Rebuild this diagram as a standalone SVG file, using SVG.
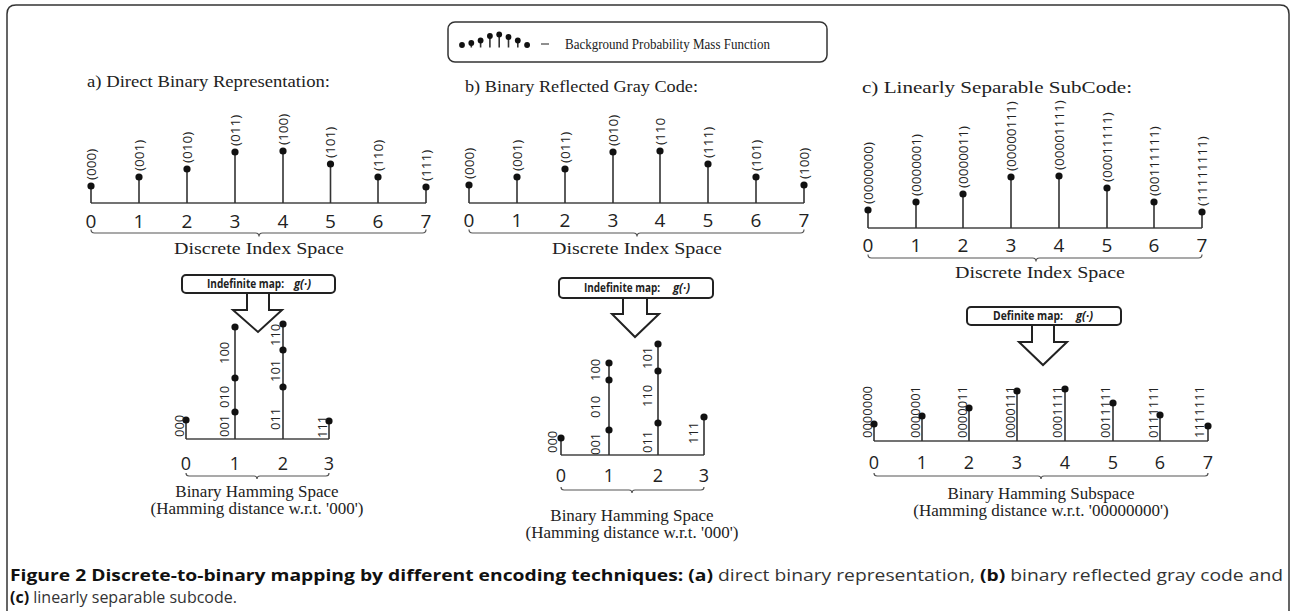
<svg xmlns="http://www.w3.org/2000/svg" width="1291" height="611" viewBox="0 0 1291 611">
<defs>
<style>
.frame{fill:none;stroke:#333;stroke-width:1.5}
.stem{stroke:#333;stroke-width:1.6}
.axis{stroke:#444;stroke-width:1.6;fill:none}
.dot{fill:#111}
.lbl{font-family:"Open Sans","DejaVu Sans",sans-serif;font-size:13.5px;fill:#222}
.hl{font-family:"Open Sans","DejaVu Sans",sans-serif;font-size:13px;fill:#222}
.num{font-family:"Open Sans","DejaVu Sans",sans-serif;font-size:19px;fill:#222;text-anchor:middle}
.hnum{font-family:"Open Sans","DejaVu Sans",sans-serif;font-size:18px;fill:#222;text-anchor:middle}
.serif{font-family:"Liberation Serif","Times New Roman",serif;fill:#222}
.title{font-size:17.5px}
.sub{font-size:17px;text-anchor:middle}
.brace{stroke:#555;stroke-width:1.2;fill:none}
.box{fill:#fff;stroke:#222;stroke-width:2}
.arrow{fill:#fff;stroke:#222;stroke-width:2;stroke-linejoin:miter}
.boxt{font-family:"Open Sans","DejaVu Sans",sans-serif;font-size:11.5px;font-weight:bold;fill:#222}
.it{font-style:italic}
.cap{font-family:"Open Sans","DejaVu Sans",sans-serif;font-size:16px;fill:#333}
.capb{font-weight:bold;fill:#111}
</style>
</defs>
<rect width="1291" height="611" fill="#fff"/>
<path class="frame" d="M7,611 V14 Q7,5 16,5 H1280 Q1289,5 1289,14 V611"/>

<g id="legend">
<rect x="448" y="22" width="379" height="40" rx="7" fill="#fff" stroke="#333" stroke-width="1.5"/>
<g class="stem" stroke-width="1.3">
<line x1="471.3" y1="47.5" x2="471.3" y2="43"/><line x1="480.6" y1="47.5" x2="480.6" y2="40.5"/><line x1="489.9" y1="47.5" x2="489.9" y2="36"/><line x1="499.2" y1="47.5" x2="499.2" y2="34.5"/><line x1="508.5" y1="47.5" x2="508.5" y2="37"/><line x1="517.8" y1="47.5" x2="517.8" y2="40.5"/>
</g>
<g class="dot">
<circle cx="462" cy="45" r="2.9"/><circle cx="471.3" cy="43" r="2.9"/><circle cx="480.6" cy="40.5" r="2.9"/><circle cx="489.9" cy="36" r="2.9"/><circle cx="499.2" cy="34.5" r="2.9"/><circle cx="508.5" cy="37" r="2.9"/><circle cx="517.8" cy="40.5" r="2.9"/><circle cx="527.1" cy="45" r="2.9"/>
</g>
<line x1="541" y1="44" x2="549" y2="44" stroke="#444" stroke-width="1.2"/>
<text class="serif" x="565" y="48.5" font-size="15" textLength="205" lengthAdjust="spacingAndGlyphs">Background Probability Mass Function</text>
</g>

<g id="panel-a">
<text class="serif title" x="87" y="87" textLength="243" lengthAdjust="spacingAndGlyphs">a) Direct Binary Representation:</text>
<line class="axis" x1="91" y1="203" x2="426" y2="203"/>
<g class="stem">
<line x1="91" y1="203" x2="91" y2="186"/><line x1="139" y1="203" x2="139" y2="177"/><line x1="187" y1="203" x2="187" y2="169"/><line x1="235" y1="203" x2="235" y2="152"/><line x1="283" y1="203" x2="283" y2="151"/><line x1="330.5" y1="203" x2="330.5" y2="164"/><line x1="378" y1="203" x2="378" y2="177"/><line x1="426" y1="203" x2="426" y2="187"/>
</g>
<g class="dot">
<circle cx="91" cy="186" r="3.6"/><circle cx="139" cy="177" r="3.6"/><circle cx="187" cy="169" r="3.6"/><circle cx="235" cy="152" r="3.6"/><circle cx="283" cy="151" r="3.6"/><circle cx="330.5" cy="164" r="3.6"/><circle cx="378" cy="177" r="3.6"/><circle cx="426" cy="187" r="3.6"/>
</g>
<g class="lbl">
<text transform="translate(95.8,180) rotate(-90)">(000)</text>
<text transform="translate(143.8,171) rotate(-90)">(001)</text>
<text transform="translate(191.8,163) rotate(-90)">(010)</text>
<text transform="translate(239.8,146) rotate(-90)">(011)</text>
<text transform="translate(287.8,145) rotate(-90)">(100)</text>
<text transform="translate(335.3,158) rotate(-90)">(101)</text>
<text transform="translate(382.8,171) rotate(-90)">(110)</text>
<text transform="translate(430.8,181) rotate(-90)">(111)</text>
</g>
<g class="num">
<text x="91" y="228">0</text><text x="139" y="228">1</text><text x="187" y="228">2</text><text x="235" y="228">3</text><text x="283" y="228">4</text><text x="330.5" y="228">5</text><text x="378" y="228">6</text><text x="426" y="228">7</text>
</g>
<path class="brace" d="M91,229.5 Q91,233 94.5,233 H255.5 Q259,233 259,236.5 Q259,233 262.5,233 H422.5 Q426,233 426,229.5"/>
<text class="serif sub" x="259" y="254" textLength="170" lengthAdjust="spacingAndGlyphs">Discrete Index Space</text>
</g>

<g id="map-a">
<rect class="box" x="182" y="275" width="153" height="18" rx="4"/>
<text class="boxt" x="207" y="288" textLength="77" lengthAdjust="spacingAndGlyphs">Indefinite map:</text>
<text class="boxt it" x="294" y="288" textLength="17" lengthAdjust="spacingAndGlyphs">g(·)</text>
</g>

<g id="hamming-a">
<line class="axis" x1="186" y1="439" x2="329" y2="439"/>
<g class="stem">
<line x1="186" y1="439" x2="186" y2="420"/><line x1="235" y1="439" x2="235" y2="327"/><line x1="283" y1="439" x2="283" y2="324"/><line x1="329" y1="439" x2="329" y2="421"/>
</g>
<g class="dot">
<circle cx="186" cy="420" r="3.6"/><circle cx="235" cy="327" r="3.6"/><circle cx="235" cy="378" r="3.6"/><circle cx="235" cy="412" r="3.6"/><circle cx="283" cy="324" r="3.6"/><circle cx="283" cy="350" r="3.6"/><circle cx="283" cy="387" r="3.6"/><circle cx="329" cy="421" r="3.6"/>
</g>
<g class="hl">
<text transform="translate(183.5,437) rotate(-90)">000</text>
<text transform="translate(228.6,437) rotate(-90)">001</text>
<text transform="translate(228.6,408) rotate(-90)">010</text>
<text transform="translate(228.6,364) rotate(-90)">100</text>
<text transform="translate(279.6,430) rotate(-90)">011</text>
<text transform="translate(279.6,382) rotate(-90)">101</text>
<text transform="translate(279.6,346) rotate(-90)">110</text>
<text transform="translate(326.6,438) rotate(-90)">111</text>
</g>
<g class="hnum">
<text x="186" y="470">0</text><text x="235" y="470">1</text><text x="283" y="470">2</text><text x="329" y="470">3</text>
</g>
<path class="brace" d="M186,473 Q186,476 189,476 H254 Q257,476 257,479 Q257,476 260,476 H326 Q329,476 329,473"/>
<text class="serif sub" x="257" y="497">Binary Hamming Space</text>
<text class="serif sub" x="257" y="514">(Hamming distance w.r.t. '000')</text>
</g>

<g id="panel-b">
<text class="serif title" x="465" y="92" textLength="233" lengthAdjust="spacingAndGlyphs">b) Binary Reflected Gray Code:</text>
<line class="axis" x1="469" y1="203" x2="804" y2="203"/>
<g class="stem">
<line x1="469" y1="203" x2="469" y2="185"/><line x1="517" y1="203" x2="517" y2="177"/><line x1="565" y1="203" x2="565" y2="169"/><line x1="613" y1="203" x2="613" y2="152"/><line x1="660" y1="203" x2="660" y2="151"/><line x1="708" y1="203" x2="708" y2="164"/><line x1="756" y1="203" x2="756" y2="177"/><line x1="804" y1="203" x2="804" y2="185"/>
</g>
<g class="dot">
<circle cx="469" cy="185" r="3.6"/><circle cx="517" cy="177" r="3.6"/><circle cx="565" cy="169" r="3.6"/><circle cx="613" cy="152" r="3.6"/><circle cx="660" cy="151" r="3.6"/><circle cx="708" cy="164" r="3.6"/><circle cx="756" cy="177" r="3.6"/><circle cx="804" cy="185" r="3.6"/>
</g>
<g class="lbl">
<text transform="translate(473.8,179) rotate(-90)">(000)</text>
<text transform="translate(521.8,171) rotate(-90)">(001)</text>
<text transform="translate(569.8,163) rotate(-90)">(011)</text>
<text transform="translate(617.8,146) rotate(-90)">(010)</text>
<text transform="translate(664.8,145) rotate(-90)">(110</text>
<text transform="translate(712.8,158) rotate(-90)">(111)</text>
<text transform="translate(760.8,171) rotate(-90)">(101)</text>
<text transform="translate(808.8,179) rotate(-90)">(100)</text>
</g>
<g class="num">
<text x="469" y="227">0</text><text x="517" y="227">1</text><text x="565" y="227">2</text><text x="613" y="227">3</text><text x="660" y="227">4</text><text x="708" y="227">5</text><text x="756" y="227">6</text><text x="804" y="227">7</text>
</g>
<path class="brace" d="M469,229.5 Q469,233 472.5,233 H633.5 Q637,233 637,236.5 Q637,233 640.5,233 H800.5 Q804,233 804,229.5"/>
<text class="serif sub" x="637" y="254" textLength="170" lengthAdjust="spacingAndGlyphs">Discrete Index Space</text>
</g>

<g id="map-b">
<rect class="box" x="559" y="278" width="154" height="20" rx="4"/>
<text class="boxt" x="584" y="292" textLength="76" lengthAdjust="spacingAndGlyphs">Indefinite map:</text>
<text class="boxt it" x="673" y="292" textLength="17" lengthAdjust="spacingAndGlyphs">g(·)</text>
</g>

<g id="hamming-b">
<line class="axis" x1="561" y1="455" x2="704" y2="455"/>
<g class="stem">
<line x1="561" y1="455" x2="561" y2="438"/><line x1="609" y1="455" x2="609" y2="363"/><line x1="658" y1="455" x2="658" y2="344"/><line x1="704" y1="455" x2="704" y2="417"/>
</g>
<g class="dot">
<circle cx="561" cy="438" r="3.6"/><circle cx="609" cy="363" r="3.6"/><circle cx="609" cy="380" r="3.6"/><circle cx="609" cy="430" r="3.6"/><circle cx="658" cy="344" r="3.6"/><circle cx="658" cy="371" r="3.6"/><circle cx="658" cy="423" r="3.6"/><circle cx="704" cy="417" r="3.6"/>
</g>
<g class="hl">
<text transform="translate(556.5,453) rotate(-90)">000</text>
<text transform="translate(600,455) rotate(-90)">001</text>
<text transform="translate(600,418) rotate(-90)">010</text>
<text transform="translate(600,381) rotate(-90)">100</text>
<text transform="translate(651.5,453) rotate(-90)">011</text>
<text transform="translate(651.5,407) rotate(-90)">110</text>
<text transform="translate(651.5,369) rotate(-90)">101</text>
<text transform="translate(697.5,444) rotate(-90)">111</text>
</g>
<g class="hnum">
<text x="561" y="482">0</text><text x="609" y="482">1</text><text x="658" y="482">2</text><text x="704" y="482">3</text>
</g>
<path class="brace" d="M561,487 Q561,490 564,490 H629 Q632,490 632,493 Q632,490 635,490 H701 Q704,490 704,487"/>
<text class="serif sub" x="632" y="521">Binary Hamming Space</text>
<text class="serif sub" x="632" y="538">(Hamming distance w.r.t. '000')</text>
</g>

<g id="panel-c">
<text class="serif title" x="862" y="93" textLength="270" lengthAdjust="spacingAndGlyphs">c) Linearly Separable SubCode:</text>
<line class="axis" x1="868" y1="228" x2="1202" y2="228"/>
<g class="stem">
<line x1="868" y1="228" x2="868" y2="210"/><line x1="916" y1="228" x2="916" y2="202"/><line x1="963" y1="228" x2="963" y2="194"/><line x1="1011" y1="228" x2="1011" y2="177"/><line x1="1059" y1="228" x2="1059" y2="176"/><line x1="1107" y1="228" x2="1107" y2="188"/><line x1="1154" y1="228" x2="1154" y2="202"/><line x1="1202" y1="228" x2="1202" y2="212"/>
</g>
<g class="dot">
<circle cx="868" cy="210" r="3.6"/><circle cx="916" cy="202" r="3.6"/><circle cx="963" cy="194" r="3.6"/><circle cx="1011" cy="177" r="3.6"/><circle cx="1059" cy="176" r="3.6"/><circle cx="1107" cy="188" r="3.6"/><circle cx="1154" cy="202" r="3.6"/><circle cx="1202" cy="212" r="3.6"/>
</g>
<g class="lbl">
<text transform="translate(872.8,204) rotate(-90)">(0000000)</text>
<text transform="translate(920.8,196) rotate(-90)">(0000001)</text>
<text transform="translate(967.8,188) rotate(-90)">(0000011)</text>
<text transform="translate(1015.8,171) rotate(-90)">(00000111)</text>
<text transform="translate(1063.8,170) rotate(-90)">(00001111)</text>
<text transform="translate(1111.8,182) rotate(-90)">(00011111)</text>
<text transform="translate(1158.8,196) rotate(-90)">(00111111)</text>
<text transform="translate(1206.8,206) rotate(-90)">(11111111)</text>
</g>
<g class="num">
<text x="868" y="252">0</text><text x="916" y="252">1</text><text x="963" y="252">2</text><text x="1011" y="252">3</text><text x="1059" y="252">4</text><text x="1107" y="252">5</text><text x="1154" y="252">6</text><text x="1202" y="252">7</text>
</g>
<path class="brace" d="M868,254.5 Q868,258 871.5,258 H1032.5 Q1036,258 1036,261.5 Q1036,258 1039.5,258 H1198.5 Q1202,258 1202,254.5"/>
<text class="serif sub" x="1040" y="278" textLength="170" lengthAdjust="spacingAndGlyphs">Discrete Index Space</text>
</g>

<g id="map-c">
<rect class="box" x="967" y="307" width="154" height="18" rx="4"/>
<text class="boxt" x="993" y="320" textLength="70" lengthAdjust="spacingAndGlyphs">Definite map:</text>
<text class="boxt it" x="1076" y="320" textLength="17" lengthAdjust="spacingAndGlyphs">g(·)</text>
</g>

<g id="hamming-c">
<line class="axis" x1="874" y1="441" x2="1208" y2="441"/>
<g class="stem">
<line x1="874" y1="441" x2="874" y2="424"/><line x1="922" y1="441" x2="922" y2="416"/><line x1="969" y1="441" x2="969" y2="408"/><line x1="1017" y1="441" x2="1017" y2="391"/><line x1="1065" y1="441" x2="1065" y2="389"/><line x1="1113" y1="441" x2="1113" y2="403"/><line x1="1160" y1="441" x2="1160" y2="415"/><line x1="1208" y1="441" x2="1208" y2="426"/>
</g>
<g class="dot">
<circle cx="874" cy="424" r="3.6"/><circle cx="922" cy="416" r="3.6"/><circle cx="969" cy="408" r="3.6"/><circle cx="1017" cy="391" r="3.6"/><circle cx="1065" cy="389" r="3.6"/><circle cx="1113" cy="403" r="3.6"/><circle cx="1160" cy="415" r="3.6"/><circle cx="1208" cy="426" r="3.6"/>
</g>
<g class="hl">
<text transform="translate(871.6,438) rotate(-90)">0000000</text>
<text transform="translate(919.6,438) rotate(-90)">0000001</text>
<text transform="translate(966.6,438) rotate(-90)">0000011</text>
<text transform="translate(1014.6,438) rotate(-90)">0000111</text>
<text transform="translate(1061.6,438) rotate(-90)">0001111</text>
<text transform="translate(1109.6,438) rotate(-90)">0011111</text>
<text transform="translate(1157.6,438) rotate(-90)">0111111</text>
<text transform="translate(1203.6,438) rotate(-90)">1111111</text>
</g>
<g class="hnum">
<text x="874" y="469">0</text><text x="922" y="469">1</text><text x="969" y="469">2</text><text x="1017" y="469">3</text><text x="1065" y="469">4</text><text x="1113" y="469">5</text><text x="1160" y="469">6</text><text x="1208" y="469">7</text>
</g>
<path class="brace" d="M874,473 Q874,476 877,476 H1038 Q1041,476 1041,479 Q1041,476 1044,476 H1205 Q1208,476 1208,473"/>
<text class="serif sub" x="1041" y="499">Binary Hamming Subspace</text>
<text class="serif sub" x="1041" y="516">(Hamming distance w.r.t. '00000000')</text>
</g>

<g id="connectors">
<polygon class="arrow" points="247,293 247,310 233,310 258,332 282,310 269,310 269,293"/>
<polygon class="arrow" points="623,298 623,314 612,314 635,337 659,314 647,314 647,298"/>
<polygon class="arrow" points="1032,325 1032,342 1019,342 1043,365 1067,342 1054,342 1054,325"/>
</g>

<g id="caption">
<text class="cap" x="10" y="581" textLength="1273" lengthAdjust="spacingAndGlyphs"><tspan class="capb">Figure 2 Discrete-to-binary mapping by different encoding techniques: (a)</tspan> direct binary representation, <tspan class="capb">(b)</tspan> binary reflected gray code and</text>
<text class="cap" x="10" y="603"><tspan class="capb">(c)</tspan> linearly separable subcode.</text>
</g>
</svg>
